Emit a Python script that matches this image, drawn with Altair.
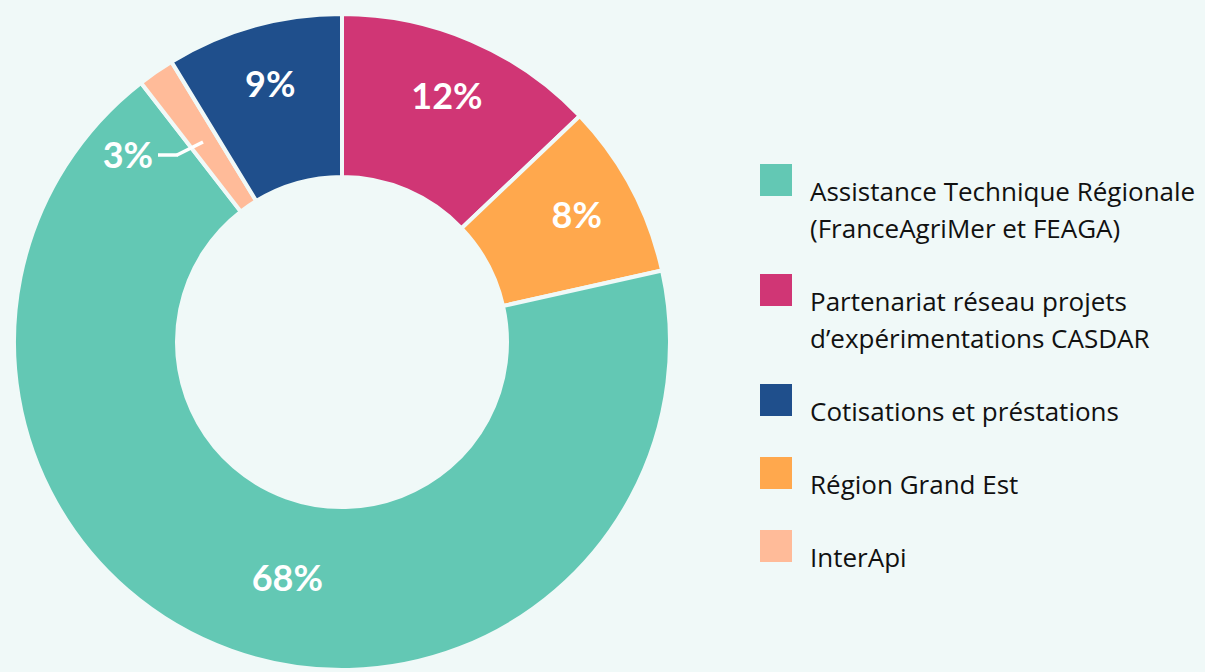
import altair as alt
import pandas as pd

# Pie order (clockwise from 12 o'clock)
categories = [
    "Partenariat réseau projets|d’expérimentations CASDAR",
    "Région Grand Est",
    "Assistance Technique Régionale|(FranceAgriMer et FEAGA)",
    "InterApi",
    "Cotisations et préstations",
]
values = [12.9, 8.6, 68.0, 1.8, 8.7]
pct_labels = ["12%", "8%", "68%", "3%", "9%"]

# Legend order and colours
legend_order = [
    "Assistance Technique Régionale|(FranceAgriMer et FEAGA)",
    "Partenariat réseau projets|d’expérimentations CASDAR",
    "Cotisations et préstations",
    "Région Grand Est",
    "InterApi",
]
legend_colors = ["#63C8B4", "#D03675", "#1F4F8C", "#FFA84D", "#FFBB99"]

BG = "#F0F9F8"

df = pd.DataFrame({
    "cat": categories,
    "value": values,
    "label": pct_labels,
    "idx": list(range(len(categories))),
})

CX, CY = 342, 342

base = alt.Chart(df).encode(
    theta=alt.Theta("value:Q", stack=True),
    order=alt.Order("idx:Q"),
    x=alt.value(CX),
    y=alt.value(CY),
)

arcs = base.mark_arc(radius=328, radius2=165, stroke=BG, strokeWidth=4).encode(
    color=alt.Color(
        "cat:N",
        scale=alt.Scale(domain=legend_order, range=legend_colors),
        legend=alt.Legend(
            orient="none",
            legendX=760,
            legendY=164,
            title=None,
            symbolType="square",
            symbolSize=1024,
            symbolStrokeWidth=0,
            symbolOpacity=1,
            labelFont="Open Sans",
            labelFontSize=26,
            labelColor="#111111",
            labelExpr="split(datum.label, '|')",
            labelBaseline="top",
            labelOffset=18,
            labelLimit=600,
            rowPadding=31,
            padding=0,
        ),
    )
)

txt_style = dict(font="Lato", fontSize=36, fontWeight="bold", color="white",
                 align="center", baseline="middle")

main_names = [categories[0], categories[1], categories[4]]
cond_main = " || ".join([f"datum.cat == '{c}'" for c in main_names])

labels_main = base.mark_text(radius=266, **txt_style).encode(
    text=alt.condition(cond_main, "label:N", alt.value(""))
)
labels_big = base.mark_text(radius=244, dx=28, dy=8, **txt_style).encode(
    text=alt.condition(f"datum.cat == '{categories[2]}'", "label:N", alt.value(""))
)
labels_small = base.mark_text(radius=247, dx=-74, dy=18, **txt_style).encode(
    text=alt.condition(f"datum.cat == '{categories[3]}'", "label:N", alt.value(""))
)

one = pd.DataFrame({"k": [0]})
leader1 = alt.Chart(one).mark_rule(color="white", strokeWidth=3.5).encode(
    x=alt.value(158), x2=alt.value(178), y=alt.value(155)
)
leader2 = alt.Chart(one).mark_rule(color="white", strokeWidth=3.5).encode(
    x=alt.value(177), x2=alt.value(203), y=alt.value(155), y2=alt.value(142)
)

chart = alt.layer(arcs, labels_main, labels_big, labels_small, leader1, leader2).properties(
    width=1205,
    height=672,
    autosize=alt.AutoSizeParams(type="none"),
    padding=0,
    background=BG,
).configure(
    view=alt.ViewConfig(stroke=None),
    style={"guide-label": {"lineHeight": 37}},
)

chart.save("out.html", embed_options={"renderer": "svg", "actions": False})
